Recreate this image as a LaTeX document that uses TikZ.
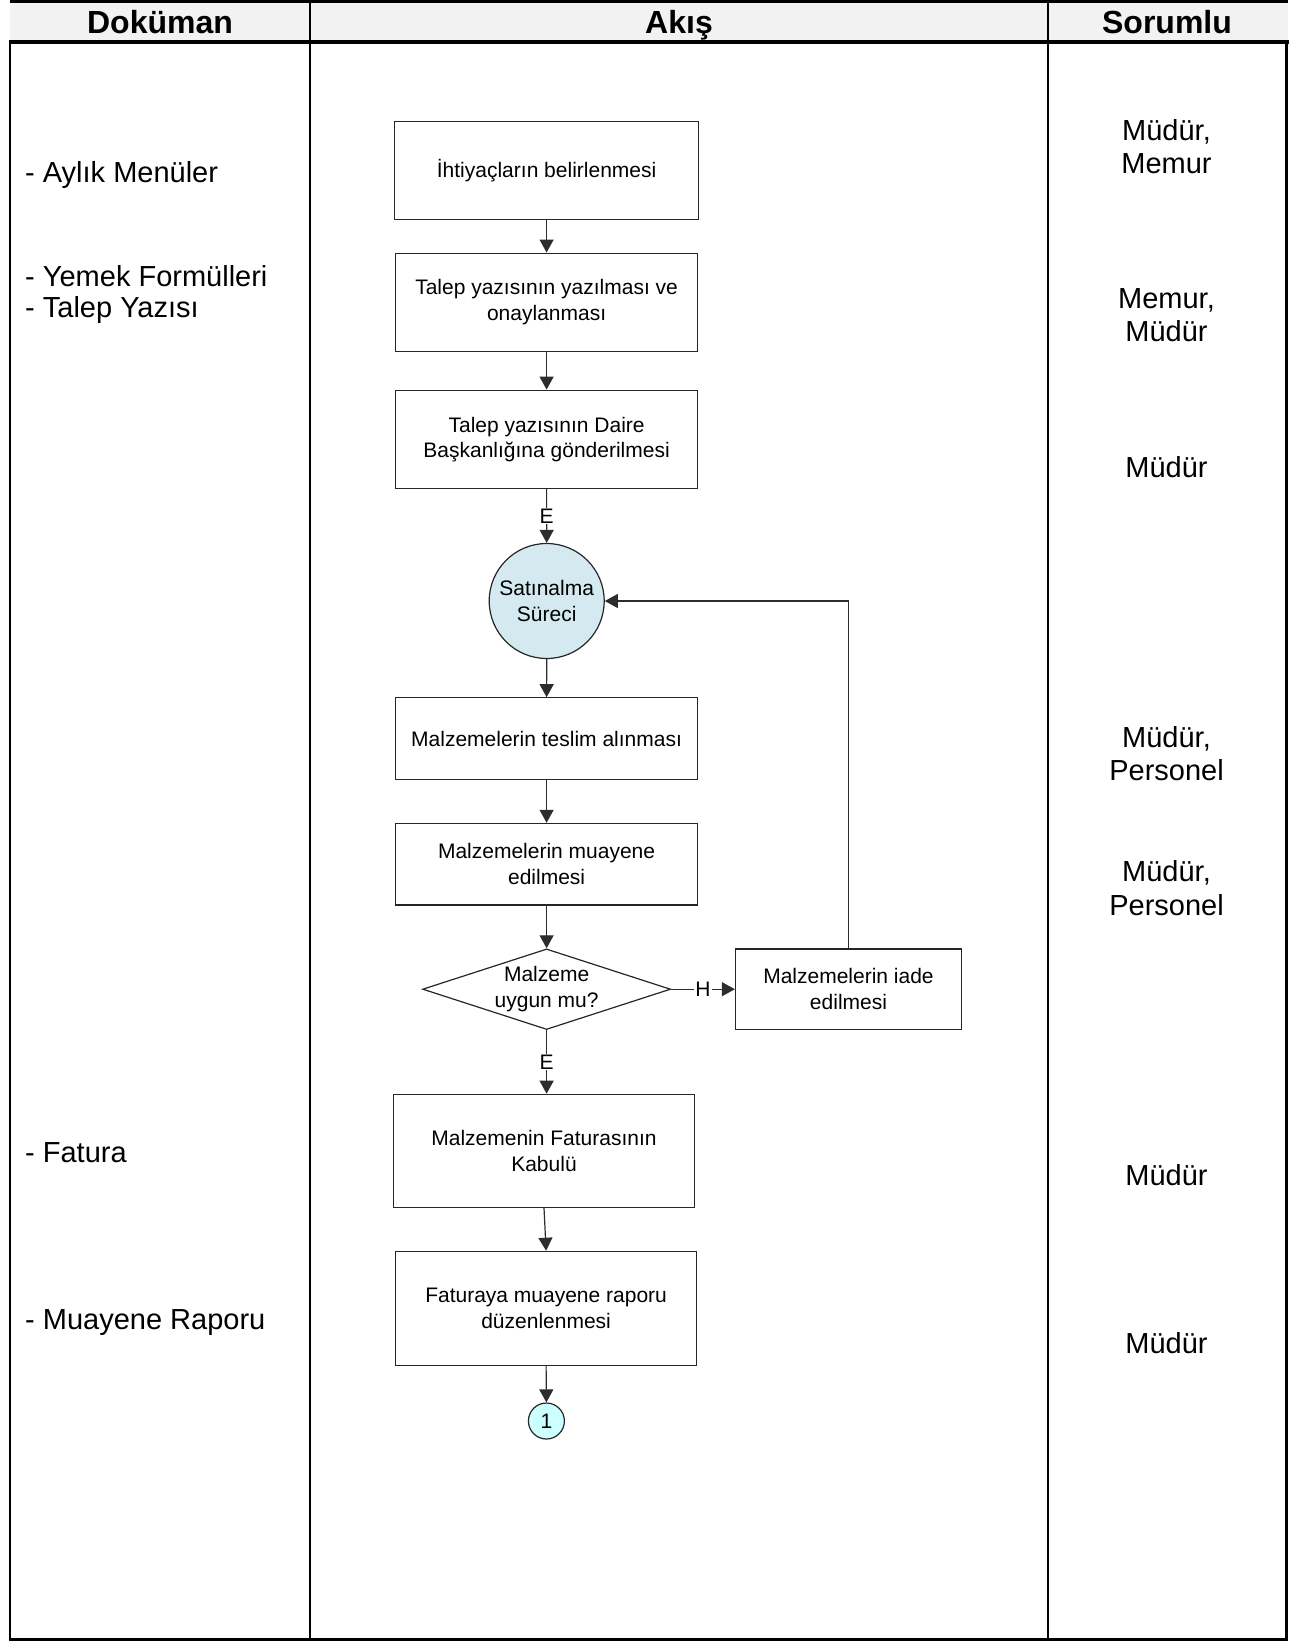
\documentclass[tikz,border=0pt]{standalone}
\usepackage{fontspec}
\setmainfont{Liberation Sans}
\usetikzlibrary{arrows.meta,shapes.geometric}
\definecolor{hdrgray}{RGB}{242,242,242}
\definecolor{circblue}{RGB}{212,234,240}
\definecolor{conncyan}{RGB}{204,255,255}
\definecolor{edgegray}{RGB}{45,45,45}
\tikzset{
  flowbox/.style={draw=black!85, line width=1.2pt, rectangle, align=center, inner sep=0pt,
    font=\fontsize{21}{25.5}\selectfont},
  arr/.style={draw=edgegray, line width=1.2pt, -{Triangle[length=13pt,width=14pt]}},
  elabel/.style={fill=white, inner sep=1pt, font=\fontsize{21}{24}\selectfont},
  sidetext/.style={font=\fontsize{29}{33.5}\selectfont, inner sep=0pt},
  hdrtext/.style={font=\bfseries\fontsize{32}{36}\selectfont, inner sep=0pt, anchor=base},
  tabline/.style={line width=2.4pt, black}
}
\begin{document}
\begin{tikzpicture}[x=1pt,y=-1pt]
\useasboundingbox (0,0) rectangle (1292,1641);
% header
\fill[hdrgray] (10,3) rectangle (1288,40);
\draw[line width=3pt] (10,1.5) -- (1288,1.5);
\draw[line width=4pt] (9,42) -- (1289,42);
\draw[tabline] (10,44) -- (10,1641);
\draw[tabline] (309.7,0) -- (309.7,1641);
\draw[tabline] (1048,0) -- (1048,1641);
\draw[tabline] (1286.5,44) -- (1286.5,1641);
\draw[line width=2.6pt] (9,1639.7) -- (1288,1639.7);
\node[hdrtext] (h1) at (160,33.5) {Doküman};
\node[hdrtext] (h2) at (679,33.5) {Akış};
\node[hdrtext] (h3) at (1167,33.5) {Sorumlu};
% document column
\node[sidetext, anchor=west] (d1) at (25,175) {- Aylık Menüler};
\node[sidetext, anchor=west] (d2) at (25,276) {- Yemek Formülleri};
\node[sidetext, anchor=west] (d3) at (25,310) {- Talep Yazısı};
\node[sidetext, anchor=west] (d4) at (25,1152.5) {- Fatura};
\node[sidetext, anchor=west] (d5) at (25,1322.5) {- Muayene Raporu};
% responsible column
\node[sidetext, align=center] (r1) at (1166.5,146.5) {Müdür,\\Memur};
\node[sidetext, align=center] (r2) at (1166.5,315) {Memur,\\Müdür};
\node[sidetext] (r3) at (1166.5,467.6) {Müdür};
\node[sidetext, align=center] (r4) at (1166.5,753.8) {Müdür,\\Personel};
\node[sidetext, align=center] (r5) at (1166.5,888.3) {Müdür,\\Personel};
\node[sidetext] (r6) at (1166.5,1175) {Müdür};
\node[sidetext] (r7) at (1166.5,1343.3) {Müdür};
% flow
\node[flowbox, minimum width=304.5pt, minimum height=98.3pt] (b1) at (546.6,170.5) {İhtiyaçların belirlenmesi};
\node[flowbox, minimum width=302.3pt, minimum height=98.3pt] (b2) at (546.6,302.3) {Talep yazısının yazılması ve\\onaylanması};
\node[flowbox, minimum width=302.3pt, minimum height=98.4pt] (b3) at (546.6,439.4) {Talep yazısının Daire\\Başkanlığına gönderilmesi};
\node[flowbox, circle, fill=circblue, minimum size=115pt] (c1) at (546.7,601) {Satınalma\\Süreci};
\node[flowbox, minimum width=302.3pt, minimum height=81.6pt] (b4) at (546.6,738.6) {Malzemelerin teslim alınması};
\node[flowbox, minimum width=302.3pt, minimum height=81.6pt] (b5) at (546.6,864.2) {Malzemelerin muayene\\edilmesi};
\node[flowbox, diamond, aspect=3.08, minimum width=248pt, minimum height=80.6pt] (q1) at (546.6,989.2) {Malzeme\\uygun mu?};
\node[flowbox, minimum width=226pt, minimum height=80.6pt] (b6) at (848.5,989.2) {Malzemelerin iade\\edilmesi};
\node[flowbox, minimum width=301.3pt, minimum height=113pt] (b7) at (544,1150.8) {Malzemenin Faturasının\\Kabulü};
\node[flowbox, minimum width=301.3pt, minimum height=114pt] (b8) at (546.1,1308.3) {Faturaya muayene raporu\\düzenlenmesi};
\node[flowbox, circle, fill=conncyan, minimum size=36pt] (k1) at (546.4,1421) {1};
% connectors
\draw[arr] (b1.south) -- (b2.north);
\draw[arr] (b2.south) -- (b3.north);
\draw[arr] (b3.south) -- node[elabel] {E} (c1.north);
\draw[arr] (c1.south) -- (b4.north);
\draw[arr] (b4.south) -- (b5.north);
\draw[arr] (b5.south) -- (q1.north);
\draw[arr] (q1.east) -- node[elabel] {H} (b6.west);
\draw[arr] (b6.north) |- (c1.east);
\draw[arr] (q1.south) -- node[elabel] {E} (q1.south |- b7.north);
\draw[arr] (b7.south) -- (b8.north);
\draw[arr] (b8.south) -- (k1.north);
\end{tikzpicture}
\end{document}
